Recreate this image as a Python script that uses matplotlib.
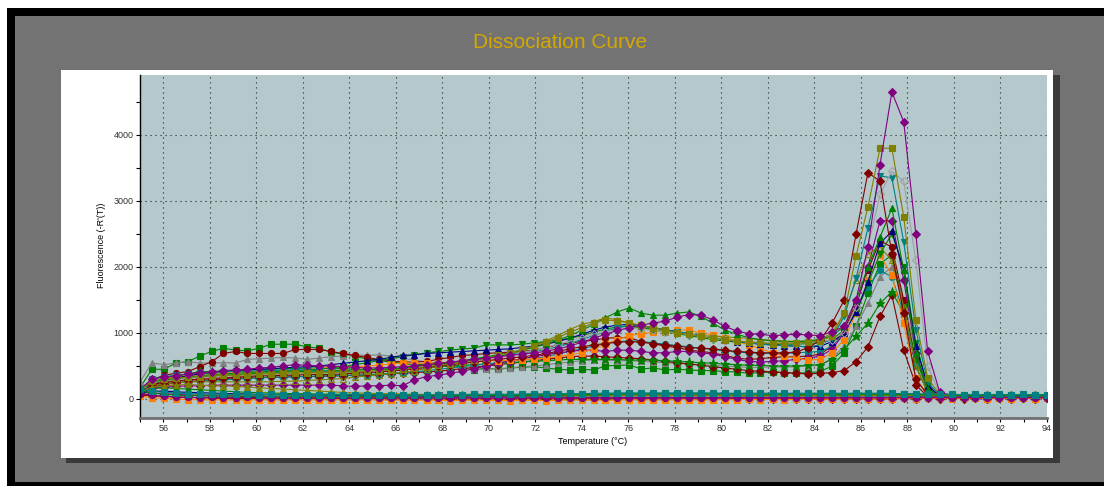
import matplotlib.pyplot as plt
from matplotlib.patches import Rectangle
from matplotlib.ticker import MultipleLocator

# melt readings, one every ~0.51 degC from 55 to 94
temps = [55.00, 55.51, 56.03, 56.54, 57.05, 57.57, 58.08, 58.59, 59.11, 59.62,
         60.13, 60.64, 61.16, 61.67, 62.18, 62.70, 63.21, 63.72, 64.24, 64.75,
         65.26, 65.78, 66.29, 66.80, 67.32, 67.83, 68.34, 68.86, 69.37, 69.88,
         70.39, 70.91, 71.42, 71.93, 72.45, 72.96, 73.47, 73.99, 74.50, 75.01,
         75.53, 76.04, 76.55, 77.07, 77.58, 78.09, 78.61, 79.12, 79.63, 80.14,
         80.66, 81.17, 81.68, 82.20, 82.71, 83.22, 83.74, 84.25, 84.76, 85.28,
         85.79, 86.30, 86.82, 87.33, 87.84, 88.36, 88.87, 89.38, 89.90, 90.41,
         90.92, 91.43, 91.95, 92.46, 92.97, 93.49, 94.00]

# -R'(T) per well
purple_hi = [150, 300, 330, 350, 380, 400, 410, 430, 440, 450,
             470, 480, 500, 520, 510, 500, 500, 490, 480, 470,
             470, 480, 490, 500, 520, 540, 560, 580, 600, 620,
             640, 660, 680, 700, 720, 760, 800, 860, 920, 980,
             1040, 1080, 1120, 1150, 1180, 1240, 1280, 1270, 1200, 1100,
             1030, 990, 980, 960, 970, 980, 970, 960, 1020, 1100,
             1500, 2300, 3550, 4650, 4200, 2500, 720, 110, 50, 40,
             30, 35, 30, 25, 30, 30, 25]
olive_sq = [120, 280, 300, 320, 330, 340, 350, 360, 360, 370,
            380, 380, 390, 390, 400, 400, 400, 410, 410, 420,
            430, 440, 450, 470, 490, 510, 530, 560, 590, 620,
            660, 700, 750, 800, 860, 930, 1010, 1080, 1150, 1200,
            1180, 1150, 1120, 1080, 1040, 1000, 980, 950, 920, 900,
            880, 860, 850, 840, 840, 850, 860, 880, 950, 1300,
            2170, 2910, 3800, 3800, 2760, 1200, 320, 70, 40, 30,
            30, 25, 30, 30, 25, 20, 25]
red_early = [80, 220, 250, 270, 290, 300, 310, 320, 330, 340,
             350, 350, 360, 360, 370, 370, 370, 380, 390, 400,
             410, 420, 440, 460, 480, 500, 520, 540, 560, 580,
             600, 620, 640, 660, 690, 720, 760, 790, 820, 840,
             860, 870, 860, 840, 820, 800, 780, 770, 760, 740,
             720, 710, 700, 700, 700, 710, 780, 890, 1150, 1500,
             2500, 3430, 3300, 2200, 1300, 300, 60, 30, 30, 20,
             25, 20, 25, 20, 20, 25, 20]
gray_open = [100, 250, 280, 300, 310, 320, 330, 340, 350, 350,
             360, 370, 370, 380, 380, 390, 390, 400, 400, 410,
             420, 430, 450, 470, 490, 510, 530, 550, 570, 600,
             630, 660, 700, 740, 780, 830, 880, 930, 980, 1020,
             1050, 1070, 1060, 1040, 1020, 1000, 980, 960, 930, 900,
             880, 870, 860, 860, 850, 850, 860, 870, 900, 1000,
             1400, 2300, 3100, 3450, 3300, 2100, 500, 80, 40, 30,
             30, 30, 25, 30, 25, 30, 25]
teal_down = [100, 300, 340, 360, 380, 390, 400, 410, 420, 420,
             430, 430, 440, 440, 440, 430, 420, 420, 410, 410,
             420, 430, 440, 460, 480, 500, 530, 560, 590, 620,
             650, 680, 700, 720, 750, 790, 840, 900, 960, 1020,
             1080, 1120, 1110, 1080, 1050, 1020, 990, 960, 930, 900,
             870, 850, 830, 820, 810, 800, 790, 820, 920, 1250,
             1830, 2590, 3380, 3350, 2380, 1050, 250, 60, 40, 30,
             30, 25, 30, 25, 30, 25, 30]
green_up = [100, 260, 290, 310, 330, 340, 350, 360, 370, 380,
            390, 400, 410, 410, 420, 420, 430, 430, 440, 440,
            450, 460, 470, 490, 510, 530, 550, 580, 610, 640,
            670, 700, 740, 780, 830, 890, 960, 1040, 1130, 1230,
            1320, 1380, 1300, 1270, 1270, 1300, 1320, 1250, 1150, 1045,
            980, 930, 900, 880, 870, 870, 880, 900, 960, 1100,
            1500, 2000, 2450, 2890, 1950, 700, 150, 50, 40, 30,
            30, 30, 25, 30, 25, 30, 30]
purple_mid = [60, 160, 180, 190, 200, 200, 210, 210, 210, 210,
              210, 210, 210, 210, 210, 210, 210, 200, 190, 200,
              200, 210, 200, 290, 340, 360, 390, 420, 460, 500,
              540, 580, 610, 640, 670, 700, 720, 740, 740, 720,
              740, 740, 720, 700, 700, 720, 720, 700, 680, 640,
              600, 570, 560, 570, 580, 600, 620, 650, 750, 1000,
              1400, 2000, 2700, 2700, 1800, 700, 150, 40, 30, 30,
              25, 30, 25, 30, 30, 25, 30]
navy_up = [90, 250, 290, 320, 350, 380, 400, 420, 430, 440,
           450, 460, 470, 480, 490, 500, 520, 540, 560, 580,
           600, 630, 660, 670, 690, 700, 710, 720, 730, 740,
           750, 760, 780, 800, 830, 870, 920, 980, 1040, 1090,
           1120, 1130, 1110, 1080, 1050, 1020, 990, 960, 930, 900,
           870, 850, 830, 820, 810, 800, 790, 800, 870, 1000,
           1320, 1780, 2360, 2540, 1950, 800, 200, 50, 40, 30,
           30, 25, 30, 25, 30, 30, 25]
green_sq = [170, 450, 450, 545, 565, 650, 720, 770, 740, 730,
            770, 830, 830, 830, 790, 770, 710, 680, 640, 610,
            580, 560, 540, 515, 530, 565, 520, 480, 440, 470,
            450, 470, 480, 490, 470, 450, 440, 450, 440, 500,
            510, 515, 455, 470, 440, 450, 440, 430, 430, 415,
            410, 390, 400, 410, 400, 390, 400, 415, 500, 700,
            1100, 1600, 2050, 2180, 1450, 600, 150, 40, 30, 30,
            30, 25, 30, 30, 25, 30, 25]
orange_sq = [90, 260, 300, 330, 350, 370, 390, 400, 410, 415,
             415, 420, 420, 430, 440, 460, 480, 490, 490, 500,
             510, 530, 545, 540, 540, 550, 560, 570, 570, 580,
             580, 585, 590, 610, 620, 640, 670, 700, 760, 830,
             900, 960, 990, 1010, 1030, 1045, 1045, 1000, 970, 930,
             880, 820, 760, 700, 650, 620, 590, 600, 700, 900,
             1300, 1800, 2180, 1880, 1150, 320, 60, 30, 30, 25,
             25, 30, 25, 30, 25, 30, 25]
gray_up = [260, 545, 520, 545, 565, 545, 545, 550, 545, 600,
           610, 620, 630, 620, 600, 620, 640, 650, 670, 660,
           670, 650, 620, 590, 560, 520, 490, 470, 450, 450,
           460, 470, 490, 500, 520, 540, 560, 580, 590, 590,
           580, 580, 570, 560, 550, 540, 530, 520, 510, 500,
           490, 480, 480, 490, 480, 490, 500, 510, 620, 800,
           1100, 1450, 1850, 2000, 1500, 700, 150, 40, 30, 30,
           25, 30, 25, 30, 30, 25, 30]
teal_circ = [70, 200, 230, 250, 260, 270, 280, 290, 300, 310,
             320, 330, 330, 340, 340, 350, 350, 360, 360, 370,
             380, 390, 400, 410, 430, 450, 470, 490, 510, 530,
             550, 570, 590, 610, 640, 680, 720, 760, 800, 840,
             870, 880, 870, 850, 830, 810, 790, 770, 750, 730,
             710, 700, 690, 690, 690, 700, 710, 720, 800, 1000,
             1350, 1700, 1950, 1850, 1300, 500, 100, 40, 30, 30,
             25, 30, 25, 30, 25, 30, 25]
red_circ = [110, 290, 360, 390, 415, 490, 565, 690, 720, 690,
            690, 690, 690, 750, 750, 750, 720, 690, 660, 630,
            600, 580, 560, 560, 570, 600, 630, 660, 670, 690,
            700, 710, 720, 740, 780, 820, 850, 870, 890, 920,
            930, 930, 870, 840, 800, 780, 740, 720, 700, 660,
            620, 600, 610, 630, 640, 640, 650, 680, 800, 1050,
            1450, 1950, 2400, 2300, 1500, 500, 100, 40, 30, 30,
            30, 25, 30, 25, 30, 30, 25]
red_low = [70, 180, 220, 240, 260, 280, 290, 300, 310, 320,
           320, 330, 330, 340, 340, 340, 350, 350, 360, 360,
           370, 380, 390, 400, 410, 420, 440, 460, 480, 500,
           520, 540, 560, 580, 600, 620, 640, 650, 650, 640,
           630, 620, 610, 590, 570, 550, 530, 510, 490, 470,
           450, 430, 420, 410, 400, 390, 380, 390, 400, 430,
           565, 790, 1250, 1575, 740, 210, 40, 30, 25, 20,
           25, 20, 25, 20, 25, 20, 25]
green_star = [80, 250, 300, 340, 380, 415, 415, 420, 430, 440,
              450, 450, 460, 460, 470, 470, 460, 460, 450, 450,
              450, 450, 460, 470, 480, 490, 500, 510, 520, 530,
              540, 550, 560, 570, 580, 590, 600, 600, 600, 600,
              600, 590, 590, 590, 580, 570, 560, 550, 540, 530,
              520, 510, 510, 500, 500, 500, 510, 520, 600, 750,
              950, 1150, 1450, 1625, 1300, 600, 150, 40, 30, 30,
              25, 30, 25, 30, 25, 30, 30]
olive_open = [60, 200, 230, 250, 260, 260, 260, 260, 260, 260,
              260, 260, 270, 270, 280, 290, 300, 310, 330, 350,
              370, 380, 400, 430, 460, 490, 520, 550, 580, 610,
              640, 680, 740, 810, 880, 960, 1050, 1130, 1170, 1230,
              1200, 1150, 1100, 1050, 1020, 1000, 980, 960, 950, 940,
              930, 920, 900, 890, 880, 870, 880, 900, 1000, 1300,
              1800, 2200, 2300, 2100, 1400, 500, 100, 40, 30, 25,
              30, 25, 30, 25, 30, 25, 30]
green_down = [80, 230, 270, 300, 330, 350, 370, 380, 390, 400,
              410, 420, 420, 430, 440, 450, 470, 490, 520, 550,
              580, 610, 640, 670, 700, 720, 740, 760, 770, 820,
              820, 820, 830, 850, 870, 890, 920, 960, 1010, 1060,
              1090, 1100, 1080, 1050, 1020, 990, 960, 930, 900, 880,
              860, 850, 840, 830, 830, 830, 840, 850, 900, 1050,
              1300, 1750, 2200, 2500, 2000, 850, 200, 50, 30, 30,
              25, 30, 25, 30, 30, 25, 30]

# negative / no-template wells
ntc_teal = [150, 120, 100, 90, 80, 80, 75, 70, 70, 70,
            65, 70, 65, 60, 65, 60, 60, 65, 60, 60,
            65, 60, 65, 60, 60, 65, 70, 65, 70, 70,
            75, 70, 75, 80, 75, 80, 85, 80, 85, 90,
            90, 95, 90, 95, 90, 95, 90, 95, 90, 90,
            85, 90, 85, 90, 85, 90, 85, 85, 90, 85,
            90, 85, 90, 85, 80, 80, 75, 70, 70, 65,
            70, 65, 70, 65, 70, 65, 60]
ntc_purple = [80, 60, 40, 30, 25, 20, 25, 20, 20, 25,
              20, 20, 15, 20, 15, 20, 15, 20, 15, 20,
              15, 20, 15, 15, 20, 15, 15, 20, 15, 15,
              15, 20, 15, 15, 20, 15, 15, 20, 15, 15,
              15, 20, 15, 15, 20, 15, 20, 15, 15, 20,
              15, 20, 15, 15, 20, 15, 15, 20, 15, 15,
              20, 15, 20, 15, 20, 15, 20, 20, 15, 20,
              15, 20, 15, 20, 15, 20, 15]
ntc_olive = [100, 180, 200, 210, 220, 210, 200, 200, 190, 180,
             170, 160, 150, 140, 130, 120, 110, 100, 90, 90,
             80, 80, 75, 70, 70, 65, 65, 60, 60, 60,
             55, 55, 50, 50, 55, 50, 50, 55, 50, 50,
             55, 50, 55, 50, 50, 55, 50, 50, 55, 50,
             50, 55, 50, 50, 55, 50, 50, 55, 50, 50,
             55, 50, 55, 50, 50, 55, 50, 50, 55, 50,
             50, 55, 50, 50, 55, 50, 50]
ntc_orange = [40, 20, 10, 0, -10, -10, -15, -10, -15, -10,
              -15, -10, -15, -15, -10, -15, -10, -15, -15, -10,
              -15, -20, -15, -20, -15, -20, -25, -20, -15, -20,
              -20, -25, -20, -20, -25, -20, -15, -20, -15, -20,
              -15, -10, -15, -10, -15, -10, -10, -15, -10, -10,
              -10, -5, -10, -5, -10, -5, -5, 0, -5, 0,
              0, 5, 0, 5, 10, 5, 10, 10, 5, 10,
              10, 5, 10, 5, 10, 5, 10]
ntc_green = [120, 90, 70, 60, 50, 50, 45, 50, 45, 40,
             45, 40, 45, 40, 40, 45, 40, 45, 40, 40,
             45, 40, 45, 50, 45, 50, 45, 50, 55, 50,
             55, 50, 55, 60, 55, 60, 65, 60, 65, 70,
             75, 80, 75, 80, 85, 80, 85, 80, 75, 80,
             75, 80, 75, 70, 75, 70, 75, 70, 75, 70,
             75, 70, 75, 70, 70, 65, 60, 65, 60, 55,
             60, 55, 60, 55, 50, 55, 50]
ntc_gray = [200, 140, 110, 90, 80, 70, 65, 60, 55, 50,
            50, 45, 45, 40, 40, 40, 35, 35, 35, 30,
            30, 35, 30, 30, 35, 30, 30, 35, 30, 30,
            35, 30, 35, 30, 35, 35, 40, 35, 40, 40,
            45, 40, 45, 40, 45, 40, 40, 45, 40, 40,
            40, 45, 40, 40, 45, 40, 40, 45, 40, 40,
            45, 40, 45, 40, 40, 35, 40, 35, 40, 35,
            35, 40, 35, 40, 35, 40, 35]
ntc_navy = [90, 110, 120, 110, 100, 95, 90, 85, 80, 75,
            70, 70, 65, 65, 60, 60, 55, 55, 50, 50,
            50, 45, 50, 45, 45, 50, 45, 45, 50, 45,
            45, 50, 45, 50, 45, 50, 50, 55, 50, 55,
            55, 60, 55, 60, 55, 60, 55, 60, 55, 55,
            55, 50, 55, 50, 55, 50, 55, 50, 55, 50,
            50, 55, 50, 55, 50, 45, 50, 45, 50, 45,
            45, 50, 45, 50, 45, 50, 45]
ntc_red = [60, 50, 40, 30, 25, 20, 15, 10, 10, 5,
           5, 0, 5, 0, 5, 0, 0, 5, 0, 0,
           5, 0, 0, 5, 0, 0, 5, 0, 0, 5,
           0, 0, 5, 0, 5, 0, 0, 5, 0, 0,
           5, 0, 5, 0, 0, 5, 0, 5, 0, 0,
           5, 0, 0, 5, 0, 5, 0, 0, 5, 0,
           5, 0, 5, 0, 10, 5, 10, 5, 10, 5,
           10, 5, 10, 5, 10, 5, 10]
ntc_green_up = [130, 160, 170, 160, 150, 140, 130, 120, 110, 100,
                95, 90, 85, 80, 80, 75, 75, 70, 70, 70,
                65, 70, 65, 70, 65, 70, 65, 70, 70, 65,
                70, 65, 70, 70, 75, 70, 75, 75, 70, 75,
                75, 80, 75, 80, 75, 80, 75, 80, 75, 80,
                75, 80, 75, 75, 80, 75, 75, 80, 75, 75,
                80, 75, 75, 70, 75, 70, 70, 65, 70, 65,
                65, 70, 65, 70, 65, 70, 65]
ntc_purple_d = [100, 90, 80, 70, 60, 55, 50, 45, 45, 40,
                40, 35, 35, 35, 30, 30, 30, 35, 30, 30,
                30, 25, 30, 25, 30, 25, 30, 25, 30, 25,
                30, 25, 30, 30, 25, 30, 25, 30, 30, 25,
                30, 25, 30, 25, 30, 25, 30, 30, 25, 30,
                25, 30, 25, 30, 25, 30, 25, 30, 25, 30,
                25, 30, 25, 30, 30, 25, 30, 25, 30, 25,
                30, 25, 30, 25, 30, 25, 30]

y_ticks = [0, 1000, 2000, 3000, 4000]
x_ticks = list(range(56, 95, 2))

PURPLE, OLIVE, DKRED, GRAY = '#800080', '#808000', '#800000', '#808080'
TEAL, GREEN, NAVY, ORANGE = '#008080', '#008000', '#000080', '#ff8000'

# (values, colour, marker, hollow)
wells = [
    (green_sq, GREEN, 's', False),
    (gray_up, GRAY, '^', False),
    (red_circ, DKRED, 'o', False),
    (red_low, DKRED, 'D', False),
    (green_star, GREEN, '*', False),
    (teal_circ, TEAL, 'o', False),
    (purple_mid, PURPLE, 'D', False),
    (orange_sq, ORANGE, 's', False),
    (olive_open, OLIVE, '^', True),
    (green_down, GREEN, 'v', False),
    (navy_up, NAVY, '^', False),
    (teal_down, TEAL, 'v', False),
    (gray_open, '#a0a0a0', 'D', True),
    (green_up, GREEN, '^', False),
    (red_early, DKRED, 'D', False),
    (olive_sq, OLIVE, 's', False),
    (purple_hi, PURPLE, 'D', False),
    (ntc_purple_d, PURPLE, 'D', False),
    (ntc_red, DKRED, 'D', False),
    (ntc_orange, ORANGE, 's', False),
    (ntc_gray, GRAY, '^', False),
    (ntc_navy, NAVY, '^', False),
    (ntc_green_up, GREEN, '^', False),
    (ntc_olive, OLIVE, '^', False),
    (ntc_green, GREEN, 's', False),
    (ntc_purple, PURPLE, 'o', False),
    (ntc_teal, TEAL, 's', False),
]

W, H = 1104, 486
plt.rcParams['font.family'] = ['Liberation Sans', 'DejaVu Sans']
fig = plt.figure(figsize=(W / 100, H / 100), dpi=100, facecolor='white')


def box(x0, y0, x1, y1, color, z):
    # rectangle given in pixel coords, origin top-left
    fig.add_artist(Rectangle((x0 / W, 1 - y1 / H), (x1 - x0) / W, (y1 - y0) / H,
                             transform=fig.transFigure, facecolor=color,
                             edgecolor='none', zorder=z))


box(7, 8, W + 5, H + 5, 'black', -5)
box(15, 16, W + 5, 482, '#737373', -4)
box(66, 75, 1060, 463, '#3a3a3a', -3)
box(61, 70, 1053, 458, 'white', -2)

ax = fig.add_axes([140 / W, 1 - 418 / H, 907 / W, 343 / H])
ax.set_facecolor('#b5c9cd')

marker_size = {'D': 3.9, '*': 6.5, 'o': 4.4}
for vals, col, mk, hollow in wells:
    ax.plot(temps, vals, color=col, lw=0.8, marker=mk,
            ms=marker_size.get(mk, 4.6), mec=col, mew=0.8,
            mfc='none' if hollow else col)

ax.set_xlim(55, 94)
ax.set_ylim(-288, 4909)
ax.set_xticks(x_ticks)
ax.set_yticks(y_ticks)
ax.xaxis.set_minor_locator(MultipleLocator(1))
ax.yaxis.set_minor_locator(MultipleLocator(500))
ax.grid(which='major', color='#202020', linestyle=(0, (1, 3.5)), linewidth=0.8)
ax.set_axisbelow(True)

ax.tick_params(which='both', direction='out', length=3, width=0.8,
               color='black', labelsize=6.5, labelcolor='#333333', pad=1.5)
for side in ('top', 'right'):
    ax.spines[side].set_visible(False)
ax.spines['bottom'].set_color('#707070')
ax.spines['bottom'].set_linewidth(2)
ax.spines['left'].set_color('black')
ax.spines['left'].set_linewidth(1)

fig.text(560 / W, 1 - 43 / H, 'Dissociation Curve', color='#d4a800',
         fontsize=15, ha='center', va='center')
fig.text(593 / W, 1 - 441 / H, 'Temperature (\u00b0C)', color='black',
         fontsize=6.5, ha='center', va='center')
fig.text(102 / W, 1 - 245 / H, "Fluorescence (-R'(T))", color='black',
         fontsize=6.5, ha='center', va='center', rotation=90)

fig.savefig('out.png', dpi=100, facecolor='white')
